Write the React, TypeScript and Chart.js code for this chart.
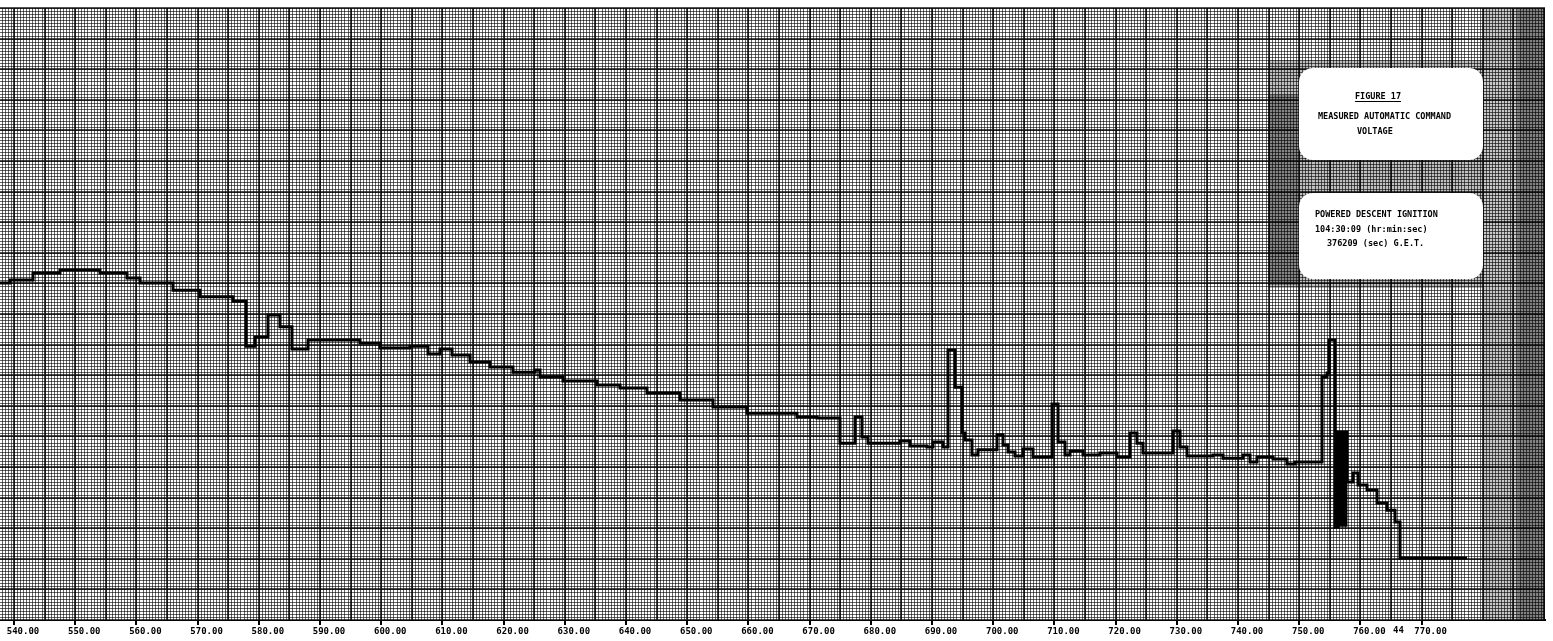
import React, { useEffect, useRef } from "react";
import { Chart, registerables } from "chart.js";

Chart.register(...registerables);

// Time (sec, G.E.T. offset) at which each step of the trace starts
const timeSec = [
  537.71, 539.34, 543.1, 547.51, 554.05, 558.46, 560.59, 565.98, 570.39, 575.78,
  577.91, 579.38, 581.5, 583.46, 585.42, 588.04, 596.53, 599.8, 604.7, 607.64,
  609.61, 611.57, 614.51, 617.78, 621.53, 625.13, 625.95, 629.7, 635.26, 639.02,
  643.43, 648.82, 654.21, 659.77, 667.94, 671.21, 674.96, 677.42, 678.56, 679.54,
  684.77, 686.4, 689.18, 690.16, 691.79, 692.61, 693.76, 694.9, 695.39, 696.53,
  697.51, 700.62, 701.6, 702.42, 703.56, 704.87, 706.5, 709.61, 710.59, 711.73,
  712.55, 714.67, 717.45, 720.23, 722.35, 723.49, 724.47, 729.38, 730.52, 731.66,
  735.91, 737.55, 740.81, 741.96, 743.1, 745.72, 748.0, 749.31, 753.72, 754.54,
  754.87, 755.85, 756.34, 756.66, 756.99, 757.32, 757.64, 757.81, 758.79, 759.61,
  761.08, 762.71, 764.34, 765.65, 766.47, 777.42,
];

// Measured automatic command voltage (chart divisions)
const commandVoltage = [
  11.01, 11.11, 11.34, 11.44, 11.34, 11.18, 11.01, 10.78, 10.56, 10.42,
  8.95, 9.25, 9.97, 9.58, 8.86, 9.15, 9.05, 8.89, 8.95, 8.69,
  8.86, 8.66, 8.43, 8.27, 8.1, 8.17, 7.94, 7.81, 7.68, 7.58,
  7.42, 7.19, 6.96, 6.76, 6.63, 6.6, 5.78, 6.63, 5.98, 5.78,
  5.85, 5.69, 5.65, 5.82, 5.65, 8.82, 7.61, 6.11, 5.88, 5.39,
  5.56, 6.05, 5.72, 5.49, 5.36, 5.59, 5.33, 7.06, 5.82, 5.39,
  5.52, 5.39, 5.46, 5.33, 6.11, 5.78, 5.46, 6.18, 5.65, 5.36,
  5.39, 5.29, 5.39, 5.16, 5.33, 5.26, 5.1, 5.16, 7.94, 8.07,
  9.15, 3.04, 6.14, 3.1, 6.14, 3.1, 6.14, 4.51, 4.8, 4.41,
  4.25, 3.82, 3.59, 3.2, 2.03, 2.03,
];

const xTickValues = [
  540, 550, 560, 570, 580, 590, 600, 610, 620, 630, 640, 650,
  660, 670, 680, 690, 700, 710, 720, 730, 740, 750, 760, 770,
];

const titleLines = ["FIGURE 17", "MEASURED AUTOMATIC COMMAND", "VOLTAGE"];
const ignitionLines = [
  "POWERED DESCENT IGNITION",
  "104:30:09 (hr:min:sec)",
  "376209 (sec) G.E.T.",
];
const tickNote = "44";

const X_MIN = 537.71;
const X_MAX = 790.16;
const Y_MIN = 0;
const Y_MAX = 20;

const MONO = '"DejaVu Sans Mono", "Liberation Mono", monospace';

const paperPlugin = {
  id: "graphPaper",
  beforeDatasetsDraw(chart: any) {
    const { ctx, chartArea: a, scales } = chart;
    const x = scales.x;
    const y = scales.y;
    ctx.save();
    ctx.fillStyle = "#fff";
    ctx.fillRect(a.left, a.top, a.right - a.left, a.bottom - a.top);

    // fine rulings
    ctx.lineWidth = 1;
    ctx.strokeStyle = "rgba(0,0,0,0.6)";
    ctx.beginPath();
    for (let i = Math.ceil(X_MIN * 2); i <= Math.floor(X_MAX * 2); i++) {
      const px = Math.round(x.getPixelForValue(i / 2)) + 0.5;
      ctx.moveTo(px, a.top);
      ctx.lineTo(px, a.bottom);
    }
    for (let j = Y_MIN * 10; j <= Y_MAX * 10; j++) {
      const py = Math.round(y.getPixelForValue(j / 10)) + 0.5;
      ctx.moveTo(a.left, py);
      ctx.lineTo(a.right, py);
    }
    ctx.stroke();

    // heavy rulings
    ctx.lineWidth = 1.6;
    ctx.strokeStyle = "rgba(0,0,0,0.9)";
    ctx.beginPath();
    for (let v = Math.ceil(X_MIN / 5) * 5; v <= X_MAX; v += 5) {
      const px = Math.round(x.getPixelForValue(v));
      ctx.moveTo(px, a.top);
      ctx.lineTo(px, a.bottom);
    }
    for (let v = Y_MIN; v <= Y_MAX; v += 1) {
      const py = Math.round(y.getPixelForValue(v));
      ctx.moveTo(a.left, py);
      ctx.lineTo(a.right, py);
    }
    ctx.stroke();

    // darker scanned areas
    ctx.fillStyle = "rgba(0,0,0,0.22)";
    ctx.fillRect(a.right - 62, a.top, 62, a.bottom - a.top);
    ctx.fillStyle = "rgba(0,0,0,0.35)";
    ctx.fillRect(a.right - 28, a.top, 28, a.bottom - a.top);
    ctx.fillStyle = "rgba(0,0,0,0.25)";
    ctx.fillRect(1268, 60, 215, 228);
    ctx.fillStyle = "rgba(0,0,0,0.3)";
    ctx.fillRect(1268, 95, 30, 190);
    ctx.restore();
  },
  afterDraw(chart: any) {
    const { ctx } = chart;
    ctx.save();
    const box = (bx: number, by: number, bw: number, bh: number) => {
      ctx.fillStyle = "#fff";
      ctx.beginPath();
      ctx.roundRect(bx, by, bw, bh, 14);
      ctx.fill();
    };
    box(1299, 68, 184, 92);
    box(1299, 193, 184, 86);

    ctx.fillStyle = "#000";
    ctx.font = `bold 8.5px ${MONO}`;
    ctx.textBaseline = "middle";
    ctx.textAlign = "center";
    ctx.fillText(titleLines[0], 1378, 97);
    const w0 = ctx.measureText(titleLines[0]).width;
    ctx.fillRect(1378 - w0 / 2, 101, w0, 1);
    ctx.textAlign = "left";
    ctx.fillText(titleLines[1], 1318, 117);
    ctx.fillText(titleLines[2], 1357, 132);

    ctx.fillText(ignitionLines[0], 1315, 215);
    ctx.fillText(ignitionLines[1], 1315, 230);
    ctx.fillText(ignitionLines[2], 1327, 244);

    ctx.font = `bold 9px ${MONO}`;
    ctx.fillText(tickNote, 1393, 631);
    ctx.restore();
  },
};

export default function App() {
  const ref = useRef<HTMLCanvasElement | null>(null);

  useEffect(() => {
    document.body.style.margin = "0";
    const canvas = ref.current;
    if (!canvas) return;
    const points = timeSec.map((t, i) => ({ x: t, y: commandVoltage[i] }));
    const chart = new Chart(canvas, {
      type: "line",
      data: {
        datasets: [
          {
            label: "Measured automatic command voltage",
            data: points,
            stepped: true,
            borderColor: "#000",
            borderWidth: 3,
            pointRadius: 0,
            fill: false,
            tension: 0,
          },
        ],
      },
      options: {
        animation: false,
        responsive: false,
        devicePixelRatio: 1,
        layout: { padding: { top: 8, right: 8, left: 0, bottom: 0 } },
        plugins: {
          legend: { display: false },
          tooltip: { enabled: false },
          title: { display: false },
        },
        scales: {
          x: {
            type: "linear",
            min: X_MIN,
            max: X_MAX,
            afterBuildTicks: (s: any) => {
              s.ticks = xTickValues.map((v) => ({ value: v }));
            },
            afterFit: (s: any) => {
              s.height = 21;
              s.paddingLeft = 0;
              s.paddingRight = 0;
            },
            ticks: {
              autoSkip: false,
              maxRotation: 0,
              minRotation: 0,
              padding: 1,
              labelOffset: 9,
              color: "#000",
              font: { family: MONO, size: 9, weight: "bold" },
              callback: (v: any) => Number(v).toFixed(2),
            },
            grid: {
              drawOnChartArea: false,
              drawTicks: true,
              tickLength: 5,
              color: "#000",
              lineWidth: 2,
            },
            border: { display: true, color: "#000", width: 2 },
          },
          y: {
            type: "linear",
            min: Y_MIN,
            max: Y_MAX,
            display: false,
          },
        },
      },
      plugins: [paperPlugin],
    });
    return () => chart.destroy();
  }, []);

  return (
    <div style={{ width: 1553, height: 641, position: "relative", background: "#fff" }}>
      <canvas ref={ref} width={1553} height={641} style={{ display: "block" }} />
    </div>
  );
}
